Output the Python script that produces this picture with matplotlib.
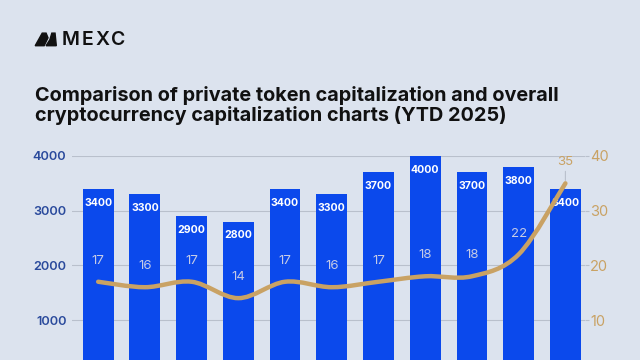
import matplotlib
matplotlib.use("Agg")
import matplotlib.pyplot as plt
from matplotlib.path import Path
from matplotlib.patches import PathPatch, Polygon

# values
months = list(range(11))
total_cap = [3400, 3300, 2900, 2800, 3400, 3300, 3700, 4000, 3700, 3800, 3400]
private_share = [17, 16, 17, 14, 17, 16, 17, 18, 18, 22, 35]
left_ticks = [1000, 2000, 3000, 4000]
right_ticks = [10, 20, 30, 40]

bg = "#dce3ee"
bar_color = "#0b49ec"
tan = "#c9a264"
navy = "#2a4a9c"

plt.rcParams['font.family'] = ['Inter', 'DejaVu Sans']

fig = plt.figure(figsize=(6.4, 3.6), dpi=100, facecolor=bg)
ax = fig.add_axes([0.1125, -0.0408, 0.8016, 0.6075])
ax.set_facecolor(bg)
ax2 = ax.twinx()

ax.bar(months, total_cap, width=0.66, color=bar_color, zorder=2)
ax.set_xlim(-0.56, 10.42)
ax.set_ylim(0, 4000)
ax.set_yticks(left_ticks)
ax.set_yticklabels([str(t) for t in left_ticks], color=navy, fontsize=9.2,
                   fontweight='semibold')
ax.tick_params(axis='y', length=0, pad=4)
ax.set_xticks([])
ax.grid(axis='y', color="#b9c0cc", linewidth=0.8, zorder=0)
for s in ax.spines.values():
    s.set_visible(False)

ax2.set_ylim(0, 40)
ax2.set_yticks(right_ticks)
ax2.set_yticklabels([str(t) for t in right_ticks], color=tan, fontsize=10.5)
ax2.tick_params(axis='y', length=3, width=0.8, color="#b9c0cc", pad=0.5)
for s in ax2.spines.values():
    s.set_visible(False)

# smooth line through the share values (Catmull-Rom as bezier segments)
pts = list(zip(months, private_share))
verts = [pts[0]]
codes = [Path.MOVETO]
for i in range(len(pts) - 1):
    p0 = pts[max(i - 1, 0)]
    p1 = pts[i]
    p2 = pts[i + 1]
    p3 = pts[min(i + 2, len(pts) - 1)]
    c1 = (p1[0] + (p2[0] - p0[0]) / 6, p1[1] + (p2[1] - p0[1]) / 6)
    c2 = (p2[0] - (p3[0] - p1[0]) / 6, p2[1] - (p3[1] - p1[1]) / 6)
    verts += [c1, c2, p2]
    codes += [Path.CURVE4] * 3
ax2.add_patch(PathPatch(Path(verts, codes), facecolor='none', edgecolor=tan,
                        linewidth=3.2, capstyle='round', zorder=3))

# bar value labels
for x, v in zip(months, total_cap):
    ax.annotate(str(v), (x, v), xytext=(0, -10), textcoords='offset points',
                ha='center', va='center', color='white', fontsize=7.6,
                fontweight='bold', zorder=5)

# line value labels
for x, v in zip(months, private_share):
    inside = v * 100 < total_cap[x] - 300
    col = "#c5cbe6" if inside else tan
    ax2.annotate(str(v), (x, v), xytext=(0, 15), textcoords='offset points',
                 ha='center', va='center', color=col, fontsize=9.5,
                 zorder=5, annotation_clip=False)
    if not inside:
        ax2.annotate("", (x, v), xytext=(x, v + 2.7),
                     arrowprops=dict(arrowstyle='-', color="#b9c0cc", lw=0.8),
                     zorder=4)

fig.text(0.055, 0.707, "Comparison of private token capitalization and overall\n"
         "cryptocurrency capitalization charts (YTD 2025)",
         fontsize=14.3, fontweight='bold', color="#111111", va='center',
         ha='left', linespacing=1.08)

# logo
fig.patches.append(Polygon([[0.055, 0.873], [0.066, 0.908], [0.072, 0.908],
                            [0.075, 0.895], [0.069, 0.873]], closed=True,
                           transform=fig.transFigure, color="#111111"))
fig.patches.append(Polygon([[0.072, 0.873], [0.078, 0.890], [0.081, 0.908],
                            [0.086, 0.908], [0.088, 0.873]], closed=True,
                           transform=fig.transFigure, color="#111111"))
for letter, lx in zip("MEXC", [0.096, 0.127, 0.149, 0.173]):
    fig.text(lx, 0.889, letter, fontsize=14, fontweight='semibold',
             color="#111111", va='center', ha='left')

fig.savefig("out.png", dpi=100, facecolor=bg)
